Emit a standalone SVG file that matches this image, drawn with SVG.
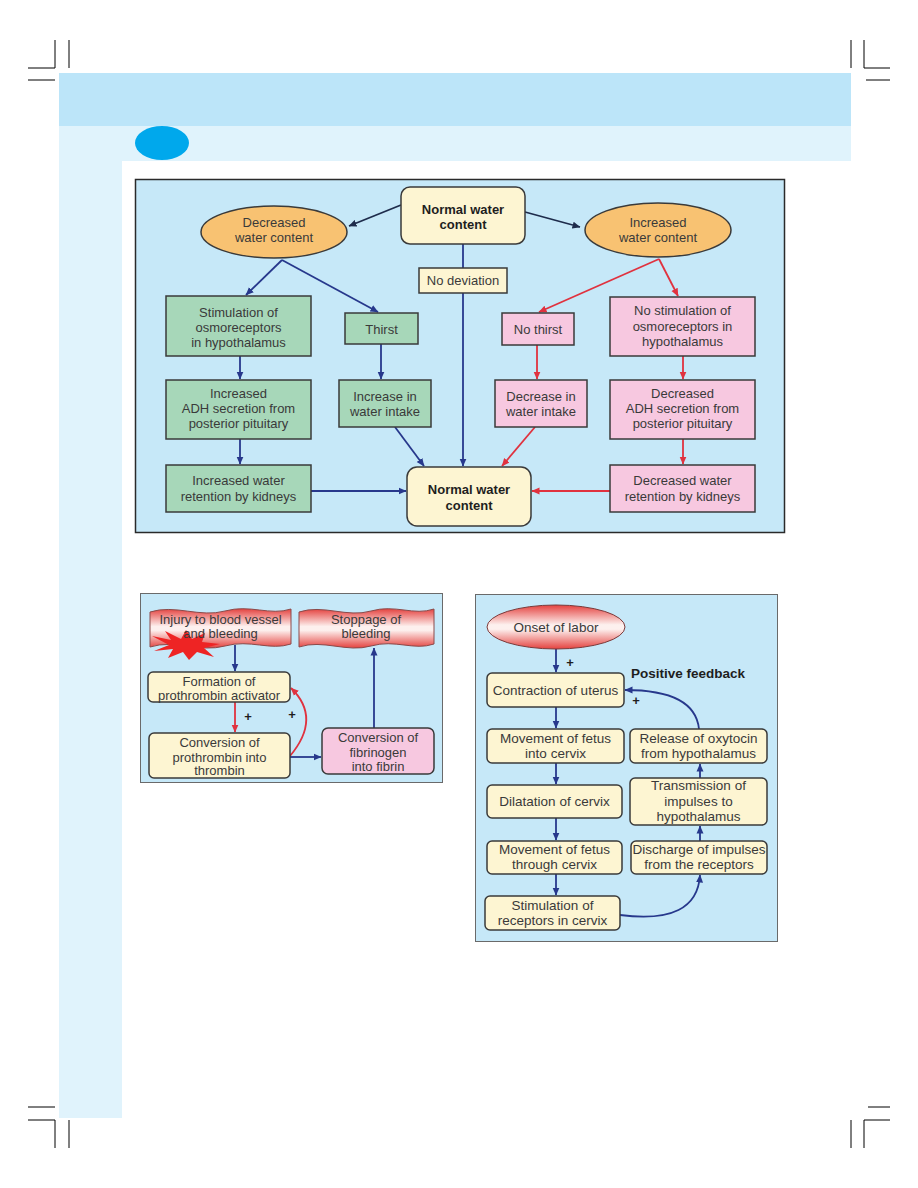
<svg xmlns="http://www.w3.org/2000/svg" width="918" height="1188" viewBox="0 0 918 1188">
<defs>
<style>
.t{font-family:"Liberation Sans",Arial,sans-serif;font-size:13px;fill:#3a3a3a;text-anchor:middle}
.m{font-size:13.5px}
.b{font-weight:bold;fill:#1e1e1e}
.bx{stroke:#3a3a3a;stroke-width:1.5}
.g{fill:#a7d7b9}
.p{fill:#f7c8e0}
.y{fill:#fdf5d2}
.o{fill:#f8c272}
.bl{stroke:#27388c;stroke-width:1.8;fill:none}
.rd{stroke:#e0323f;stroke-width:1.8;fill:none}
.dk{stroke:#1e2c4c;stroke-width:1.8;fill:none}
.cm{stroke:#000;stroke-width:1;fill:none}
.pan{fill:#c6e8f8}
</style>
<marker id="ab" viewBox="0 0 8 8" refX="7.5" refY="4" markerWidth="8" markerHeight="8" markerUnits="userSpaceOnUse" orient="auto"><path d="M0,0.5 L8,4 L0,7.5 z" fill="#27388c"/></marker>
<marker id="ar" viewBox="0 0 8 8" refX="7.5" refY="4" markerWidth="8" markerHeight="8" markerUnits="userSpaceOnUse" orient="auto"><path d="M0,0.5 L8,4 L0,7.5 z" fill="#e0323f"/></marker>
<marker id="ad" viewBox="0 0 8 8" refX="7.5" refY="4" markerWidth="8" markerHeight="8" markerUnits="userSpaceOnUse" orient="auto"><path d="M0,0.5 L8,4 L0,7.5 z" fill="#1e2c4c"/></marker>
<linearGradient id="rg" x1="0" y1="0" x2="0" y2="1">
<stop offset="0" stop-color="#e4423f"/>
<stop offset="0.45" stop-color="#fdf0ee"/>
<stop offset="0.55" stop-color="#fdf0ee"/>
<stop offset="1" stop-color="#e4423f"/>
</linearGradient>
</defs>
<rect width="918" height="1188" fill="#fff"/>
<g id="page">
<rect x="59" y="73" width="792" height="53" fill="#bce5f9"/>
<rect x="59" y="126" width="792" height="35" fill="#e0f3fc"/>
<rect x="59" y="161" width="63" height="957" fill="#e0f3fc"/>
<ellipse cx="162" cy="143" rx="27" ry="17" fill="#00a8ec"/>
<path class="cm" d="M55,40 V68 H28 M69,40 V68 M28,80 H55 M851,40 V68 M864,40 V68 H890 M866,80 H890 M28,1107 H55 M28,1120 H55 V1148 M69,1120 V1148 M868,1107 H890 M890,1120 H864 V1148 M851,1120 V1148"/>
<rect class="pan" x="135.5" y="179.5" width="649" height="353" stroke="#2a2a2a" stroke-width="1.5"/>
<rect class="pan" x="140.5" y="593.5" width="302" height="189" stroke="#6a6a6a" stroke-width="1"/>
<rect class="pan" x="475.5" y="594.5" width="302" height="347" stroke="#6a6a6a" stroke-width="1"/>
</g>
<g id="connectors">
<path class="dk" d="M401,205 L349,226" marker-end="url(#ad)"/>
<path class="dk" d="M525,212 L580,227" marker-end="url(#ad)"/>
<path class="bl" d="M282,260 L246,295" marker-end="url(#ab)"/>
<path class="bl" d="M282,260 L378,312" marker-end="url(#ab)"/>
<path class="bl" d="M463,244 L463,466" marker-end="url(#ab)"/>
<path class="bl" d="M240,356 L240,379" marker-end="url(#ab)"/>
<path class="bl" d="M240,439 L240,464" marker-end="url(#ab)"/>
<path class="bl" d="M311,491 L406,491" marker-end="url(#ab)"/>
<path class="bl" d="M381,344 L381,379" marker-end="url(#ab)"/>
<path class="bl" d="M395,427 L424,466" marker-end="url(#ab)"/>
<path class="rd" d="M659,259 L539,312" marker-end="url(#ar)"/>
<path class="rd" d="M659,259 L678,296" marker-end="url(#ar)"/>
<path class="rd" d="M537,345 L537,379" marker-end="url(#ar)"/>
<path class="rd" d="M535,427 L502,466" marker-end="url(#ar)"/>
<path class="rd" d="M683,356 L683,379" marker-end="url(#ar)"/>
<path class="rd" d="M683,439 L683,464" marker-end="url(#ar)"/>
<path class="rd" d="M610,491 L532,491" marker-end="url(#ar)"/>
<path class="bl" d="M235,645 L235,671" marker-end="url(#ab)"/>
<path class="rd" d="M235,702 L235,732" marker-end="url(#ar)"/>
<path class="rd" d="M290,756 Q322,718 291,688" marker-end="url(#ar)"/>
<path class="bl" d="M290,757 L321,757" marker-end="url(#ab)"/>
<path class="bl" d="M374,728 L374,648" marker-end="url(#ab)"/>
<path class="bl" d="M556,649 L556,672" marker-end="url(#ab)"/>
<path class="bl" d="M699,729 Q695,690 625,690" marker-end="url(#ab)"/>
<path class="bl" d="M556,707 L556,728" marker-end="url(#ab)"/>
<path class="bl" d="M556,763 L556,784" marker-end="url(#ab)"/>
<path class="bl" d="M556,818 L556,840" marker-end="url(#ab)"/>
<path class="bl" d="M556,874 L556,895" marker-end="url(#ab)"/>
<path class="bl" d="M620,915 Q697,925 700,875" marker-end="url(#ab)"/>
<path class="bl" d="M700,841 L700,826" marker-end="url(#ab)"/>
<path class="bl" d="M700,778 L700,764" marker-end="url(#ab)"/>
</g>
<g id="n-normal-top"><rect class="bx y" x="401" y="187" width="124" height="57" rx="9"/><text class="t b" x="463" y="214">Normal water</text><text class="t b" x="463" y="229">content</text></g>
<g id="n-decreased"><ellipse class="bx o" cx="274" cy="232" rx="73" ry="26"/><text class="t" x="274" y="227">Decreased</text><text class="t" x="274" y="242">water content</text></g>
<g id="n-increased"><ellipse class="bx o" cx="658" cy="230" rx="73" ry="27"/><text class="t" x="658" y="227">Increased</text><text class="t" x="658" y="242">water content</text></g>
<g id="n-nodev"><rect class="bx y" x="419" y="268" width="88" height="25"/><text class="t" x="463" y="285">No deviation</text></g>
<g id="n-stim"><rect class="bx g" x="166" y="296" width="145" height="60"/><text class="t" x="238.5" y="317">Stimulation of</text><text class="t" x="238.5" y="332">osmoreceptors</text><text class="t" x="238.5" y="347">in hypothalamus</text></g>
<g id="n-thirst"><rect class="bx g" x="345" y="313" width="73" height="31"/><text class="t" x="381.5" y="333.5">Thirst</text></g>
<g id="n-incadh"><rect class="bx g" x="166" y="380" width="145" height="59"/><text class="t" x="238.5" y="398">Increased</text><text class="t" x="238.5" y="413">ADH secretion from</text><text class="t" x="238.5" y="428">posterior pituitary</text></g>
<g id="n-incret"><rect class="bx g" x="166" y="465" width="145" height="47"/><text class="t" x="238.5" y="485">Increased water</text><text class="t" x="238.5" y="501">retention by kidneys</text></g>
<g id="n-incintake"><rect class="bx g" x="339" y="380" width="92" height="47"/><text class="t" x="385" y="401">Increase in</text><text class="t" x="385" y="416">water intake</text></g>
<g id="n-normal-bottom"><rect class="bx y" x="407" y="467" width="124" height="59" rx="10"/><text class="t b" x="469" y="494">Normal water</text><text class="t b" x="469" y="510">content</text></g>
<g id="n-nothirst"><rect class="bx p" x="502" y="313" width="72" height="32"/><text class="t" x="538" y="333.5">No thirst</text></g>
<g id="n-nostim"><rect class="bx p" x="610" y="297" width="145" height="59"/><text class="t" x="682.5" y="315">No stimulation of</text><text class="t" x="682.5" y="330.5">osmoreceptors in</text><text class="t" x="682.5" y="346">hypothalamus</text></g>
<g id="n-decintake"><rect class="bx p" x="495" y="380" width="92" height="47"/><text class="t" x="541" y="401">Decrease in</text><text class="t" x="541" y="416">water intake</text></g>
<g id="n-decadh"><rect class="bx p" x="610" y="380" width="145" height="59"/><text class="t" x="682.5" y="398">Decreased</text><text class="t" x="682.5" y="413">ADH secretion from</text><text class="t" x="682.5" y="428">posterior pituitary</text></g>
<g id="n-decret"><rect class="bx p" x="610" y="465" width="145" height="47"/><text class="t" x="682.5" y="485">Decreased water</text><text class="t" x="682.5" y="501">retention by kidneys</text></g>
<g id="n-injury"><path d="M150,612 C175,604 200,618 225,611 C250,604 270,616 291,609 L291,644 C270,651 250,639 225,646 C200,653 175,639 150,647 Z" fill="url(#rg)" stroke="#8a4a4a" stroke-width="1"/><polygon points="152,636 171,640 165,631 181,639 186,630 192,639 205,633 202,642 220,644 204,648 214,657 197,652 189,660 183,652 168,658 173,649 154,651 169,645" fill="#ee2424"/><text class="t" x="220.5" y="624">Injury to blood vessel</text><text class="t" x="220.5" y="638">and bleeding</text></g>
<g id="n-stoppage"><path d="M299,612 C323,604 347,618 371,611 C395,604 414,616 434,609 L434,644 C414,651 395,639 371,646 C347,653 323,639 299,647 Z" fill="url(#rg)" stroke="#8a4a4a" stroke-width="1"/><text class="t" x="366" y="624">Stoppage of</text><text class="t" x="366" y="638">bleeding</text></g>
<g id="n-formation"><rect class="bx y" x="148" y="672" width="142" height="30" rx="5"/><text class="t" x="219" y="686">Formation of</text><text class="t" x="219" y="699.5">prothrombin activator</text></g>
<g id="n-convprot"><rect class="bx y" x="149" y="733" width="141" height="45" rx="5"/><text class="t" x="219.5" y="747">Conversion of</text><text class="t" x="219.5" y="761.5">prothrombin into</text><text class="t" x="219.5" y="775">thrombin</text></g>
<g id="n-convfib"><rect class="bx p" x="322" y="728" width="112" height="46" rx="6"/><text class="t" x="378" y="742">Conversion of</text><text class="t" x="378" y="756.5">fibrinogen</text><text class="t" x="378" y="770.5">into fibrin</text></g>
<g id="plus-labels"><text class="t b" x="248" y="721">+</text><text class="t b" x="292" y="719">+</text><text class="t b" x="570" y="667">+</text><text class="t b" x="636" y="705">+</text></g>
<g id="n-onset"><ellipse cx="556" cy="627" rx="69" ry="22" fill="url(#rg)" stroke="#7a3a3a" stroke-width="1"/><text class="t m" x="556" y="632">Onset of labor</text></g>
<g id="label-feedback"><text class="t m b" x="631" y="678" style="text-anchor:start">Positive feedback</text></g>
<g id="n-contraction"><rect class="bx y" x="487" y="673" width="137" height="34" rx="5"/><text class="t m" x="555.5" y="694.5">Contraction of uterus</text></g>
<g id="n-movinto"><rect class="bx y" x="487" y="729" width="137" height="34" rx="5"/><text class="t m" x="555.5" y="743">Movement of fetus</text><text class="t m" x="555.5" y="758">into cervix</text></g>
<g id="n-release"><rect class="bx y" x="630" y="729" width="137" height="34" rx="5"/><text class="t m" x="698.5" y="743">Release of oxytocin</text><text class="t m" x="698.5" y="758">from hypothalamus</text></g>
<g id="n-dilatation"><rect class="bx y" x="487" y="785" width="135" height="33" rx="5"/><text class="t m" x="554.5" y="806">Dilatation of cervix</text></g>
<g id="n-transmission"><rect class="bx y" x="630" y="778" width="137" height="47" rx="5"/><text class="t m" x="698.5" y="790">Transmission of</text><text class="t m" x="698.5" y="806">impulses to</text><text class="t m" x="698.5" y="821">hypothalamus</text></g>
<g id="n-movthrough"><rect class="bx y" x="487" y="841" width="135" height="33" rx="5"/><text class="t m" x="554.5" y="854">Movement of fetus</text><text class="t m" x="554.5" y="869">through cervix</text></g>
<g id="n-discharge"><rect class="bx y" x="631" y="841" width="136" height="33" rx="5"/><text class="t m" x="699" y="854">Discharge of impulses</text><text class="t m" x="699" y="869">from the receptors</text></g>
<g id="n-stimrec"><rect class="bx y" x="485" y="896" width="135" height="34" rx="5"/><text class="t m" x="552.5" y="910">Stimulation of</text><text class="t m" x="552.5" y="925">receptors in cervix</text></g>
</svg>
